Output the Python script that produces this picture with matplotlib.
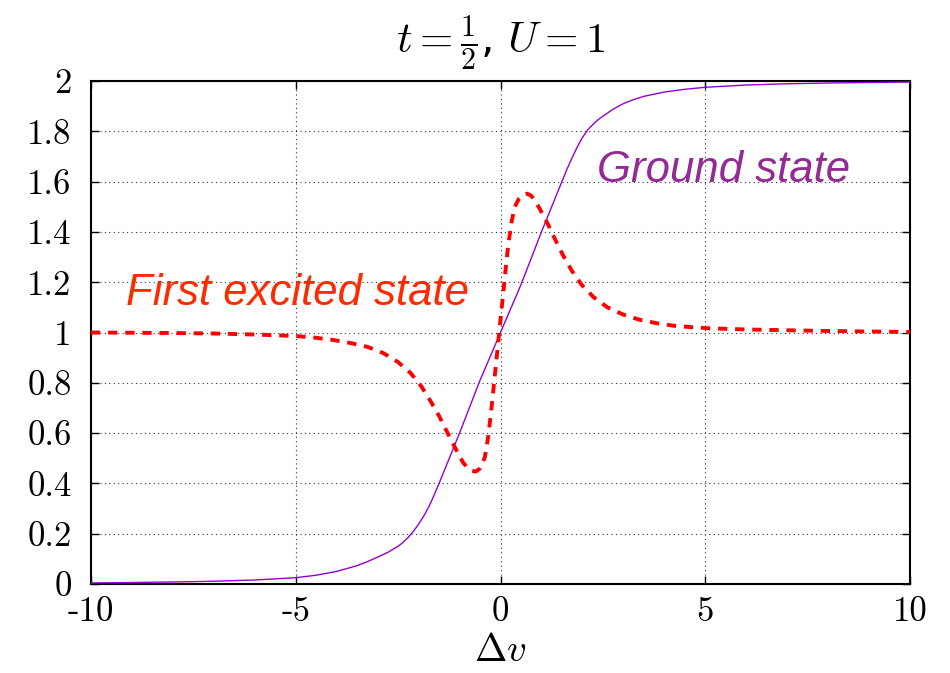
import matplotlib
matplotlib.use("Agg")
import matplotlib.pyplot as plt

plt.rcParams['mathtext.fontset'] = 'cm'

# Ground state
gs_x = [-10, -9, -8, -7, -6, -5, -4.5, -4, -3.5, -3.25, -3, -2.75, -2.5, -2.375, -2.25,
        -2.125, -2, -1.875, -1.75, -1.625, -1.5, -1.25, -1, -0.75, -0.5, -0.25, 0, 0.25,
        0.5, 0.75, 1, 1.25, 1.5, 1.625, 1.75, 1.875, 2, 2.125, 2.25, 2.375, 2.5, 2.75,
        3, 3.25, 3.5, 4, 4.5, 5, 6, 7, 8, 9, 10]
gs_y = [0.004, 0.006, 0.008, 0.011, 0.016, 0.025, 0.035, 0.05, 0.073, 0.089, 0.107, 0.126,
        0.15, 0.166, 0.186, 0.21, 0.238, 0.27, 0.307, 0.352, 0.40, 0.50, 0.60, 0.705,
        0.81, 0.905, 1.0, 1.095, 1.19, 1.295, 1.40, 1.50, 1.60, 1.65, 1.695, 1.738,
        1.775, 1.805, 1.826, 1.845, 1.86, 1.888, 1.91, 1.926, 1.939, 1.956, 1.967,
        1.975, 1.984, 1.989, 1.992, 1.994, 1.996]

# First excited state
ex_x = [-10, -9, -8, -7, -6, -5, -4.5, -4.08, -3.66, -3.23, -2.86, -2.5, -2.19, -1.93,
        -1.7, -1.49, -1.3, -1.11, -0.91, -0.8, -0.7, -0.6, -0.5, -0.45, -0.38, -0.3,
        -0.25, -0.2, -0.15, -0.1, -0.05, 0.0, 0.05, 0.1, 0.15, 0.2, 0.27, 0.35, 0.45,
        0.55, 0.65, 0.75, 0.85, 0.965, 1.17, 1.35, 1.53, 1.74, 1.98, 2.27, 2.61, 3.0,
        3.41, 3.81, 4.22, 4.67, 5.07, 6, 7, 8, 9, 10]
ex_y = [1.0, 0.999, 0.998, 0.996, 0.992, 0.986, 0.979, 0.97, 0.958, 0.942, 0.918, 0.882,
        0.838, 0.785, 0.725, 0.665, 0.603, 0.542, 0.482, 0.462, 0.45, 0.447, 0.46, 0.475,
        0.506, 0.586, 0.655, 0.73, 0.81, 0.89, 0.97, 1.05, 1.13, 1.21, 1.29, 1.36, 1.44,
        1.50, 1.532, 1.547, 1.552, 1.544, 1.522, 1.49, 1.427, 1.365, 1.306, 1.246, 1.19,
        1.141, 1.10, 1.071, 1.05, 1.037, 1.027, 1.021, 1.017, 1.012, 1.009, 1.006, 1.004,
        1.002]

xticks = [-10, -5, 0, 5, 10]
xticklabels = ['-10', '-5', '0', '5', '10']
yticks = [0, 0.2, 0.4, 0.6, 0.8, 1, 1.2, 1.4, 1.6, 1.8, 2]
yticklabels = ['0', '0.2', '0.4', '0.6', '0.8', '1', '1.2', '1.4', '1.6', '1.8', '2']

fig = plt.figure(figsize=(9.5, 6.73), dpi=100)
ax = fig.add_axes([91/950, 1-584/673, (910-91)/950, (584-81)/673])

ax.plot(gs_x, gs_y, color='#9400D3', lw=1.0, zorder=3)
ax.plot(ex_x, ex_y, color='#FF0000', lw=2.8, dashes=(2.4, 2.0), zorder=3)

ax.set_xlim(-10, 10)
ax.set_ylim(0, 2)
ax.set_xticks(xticks)
ax.set_xticklabels(xticklabels, fontfamily='cmr10', fontsize=25)
ax.set_yticks(yticks)
ax.set_yticklabels(yticklabels, fontfamily='cmr10', fontsize=25)
ax.tick_params(direction='in', length=6, width=1, top=True, right=True)
ax.tick_params(axis='y', pad=14)
ax.tick_params(axis='x', pad=9)
for s in ax.spines.values():
    s.set_linewidth(1.5)
ax.grid(True, linestyle=(0, (1, 3)), color='#333333', linewidth=0.8)

ax.set_title(r'$t=\frac{1}{2}$, $U=1$', fontsize=31, pad=20)
ax.set_xlabel(r'$\Delta v$', fontsize=28, labelpad=2)

ax.text(2.36, 1.60, 'Ground state', color='#942A94', fontsize=31.5,
        fontfamily='Liberation Sans', style='italic', ha='left', va='baseline')
ax.text(-9.15, 1.109, 'First excited state', color='#FF2A00', fontsize=31.5,
        fontfamily='Liberation Sans', style='italic', ha='left', va='baseline')

fig.savefig('out.png', dpi=100)
